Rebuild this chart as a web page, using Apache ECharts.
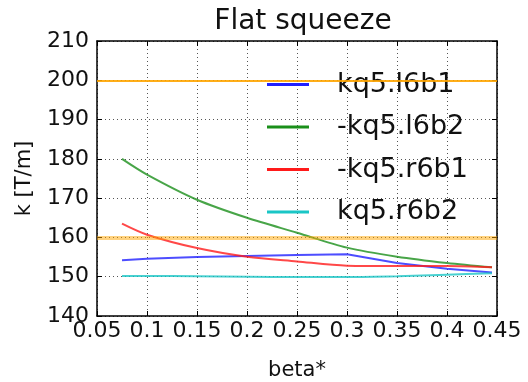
<!DOCTYPE html>
<html>
<head>
<meta charset="utf-8">
<script src="https://cdn.jsdelivr.net/npm/echarts@6/dist/echarts.min.js"></script>
<style>
  html, body { margin: 0; padding: 0; background: #fff; }
  #chart { width: 528px; height: 382px; }
</style>
</head>
<body>
<div id="chart"></div>
<script>
// data
const betas = [0.075, 0.1, 0.15, 0.2, 0.25, 0.3, 0.35, 0.4, 0.445]
const kq5l6b1 = [154.2, 154.6, 155.0, 155.3, 155.5, 155.7, 153.5, 152.0, 151.1]
const kq5l6b2 = [180.0, 176.0, 169.6, 165.0, 161.2, 157.4, 155.1, 153.5, 152.4]
const kq5r6b1 = [163.5, 160.7, 157.3, 155.1, 153.9, 152.8, 152.7, 152.7, 152.4]
const kq5r6b2 = [150.2, 150.2, 150.1, 150.0, 149.9, 149.9, 150.1, 150.5, 150.9]
const seriesNames = ['kq5.l6b1', '-kq5.l6b2', '-kq5.r6b1', 'kq5.r6b2']
const limitLines = [200, 160]

const font = 'DejaVu Sans'
const chart = echarts.init(document.getElementById('chart'))

const pairs = (ys) => betas.map((b, i) => [b, ys[i]])

const lineSeries = (name, ys, color, smooth) => ({
  name: name,
  type: 'line',
  data: pairs(ys),
  smooth: smooth,
  showSymbol: false,
  symbol: 'none',
  lineStyle: { color: color, width: 2, opacity: 0.8 },
  itemStyle: { color: color },
  z: 3
})

const gridLine = { show: true, lineStyle: { color: '#555', type: [1, 3], width: 1 } }
const tickIn = { show: true, inside: true, length: 5, lineStyle: { color: '#000', width: 1 } }
const boxLine = { show: true, onZero: false, lineStyle: { color: '#000', width: 1.5 } }

const option = {
  animation: false,
  title: {
    text: 'Flat squeeze',
    left: 298,
    top: 3,
    textAlign: 'center',
    textStyle: { fontFamily: font, fontSize: 28, fontWeight: 'normal', color: '#111' }
  },
  grid: { left: 97, right: 31, top: 41, bottom: 66, outerBoundsMode: 'none' },
  legend: {
    data: seriesNames,
    orient: 'vertical',
    left: 262,
    top: 66,
    itemWidth: 42,
    itemHeight: 3,
    itemGap: 15.5,
    icon: 'rect',
    textStyle: { fontFamily: font, fontSize: 27, color: '#111', lineHeight: 27, padding: [0, 0, 0, 23] }
  },
  xAxis: [
    {
      type: 'value',
      min: 0.05,
      max: 0.45,
      interval: 0.05,
      name: 'beta*',
      nameLocation: 'middle',
      nameGap: 44,
      nameTextStyle: { fontFamily: font, fontSize: 21, color: '#111' },
      axisLine: boxLine,
      axisTick: tickIn,
      splitLine: gridLine,
      axisLabel: {
        margin: 4,
        fontFamily: font,
        fontSize: 22,
        color: '#111',
        formatter: (v) => String(parseFloat(v.toFixed(2)))
      }
    },
    {
      type: 'value',
      position: 'top',
      min: 0.05,
      max: 0.45,
      interval: 0.05,
      axisLine: boxLine,
      axisTick: tickIn,
      axisLabel: { show: false },
      splitLine: { show: false }
    }
  ],
  yAxis: [
    {
      type: 'value',
      min: 140,
      max: 210,
      interval: 10,
      name: 'k [T/m]',
      nameLocation: 'middle',
      nameRotate: 90,
      nameGap: 62,
      nameTextStyle: { fontFamily: font, fontSize: 21, color: '#111' },
      axisLine: boxLine,
      axisTick: tickIn,
      splitLine: gridLine,
      axisLabel: { margin: 8, fontFamily: font, fontSize: 22, color: '#111' }
    },
    {
      type: 'value',
      position: 'right',
      min: 140,
      max: 210,
      interval: 10,
      axisLine: boxLine,
      axisTick: tickIn,
      axisLabel: { show: false },
      splitLine: { show: false }
    }
  ],
  series: [
    {
      name: 'limits',
      type: 'line',
      data: [],
      markLine: {
        silent: true,
        symbol: 'none',
        label: { show: false },
        data: [
          { yAxis: limitLines[0], lineStyle: { color: '#ffa500', width: 2, type: 'solid', opacity: 0.9 } },
          { yAxis: limitLines[1], lineStyle: { color: '#ffa500', width: 4, type: 'solid', opacity: 0.5 } }
        ]
      },
      z: 2
    },
    lineSeries(seriesNames[0], kq5l6b1, '#2020ff', false),
    lineSeries(seriesNames[1], kq5l6b2, '#1a8f1a', 0.3),
    lineSeries(seriesNames[2], kq5r6b1, '#ff1a1a', 0.3),
    lineSeries(seriesNames[3], kq5r6b2, '#1ac6c6', 0.3)
  ]
}

chart.setOption(option)
</script>
</body>
</html>
